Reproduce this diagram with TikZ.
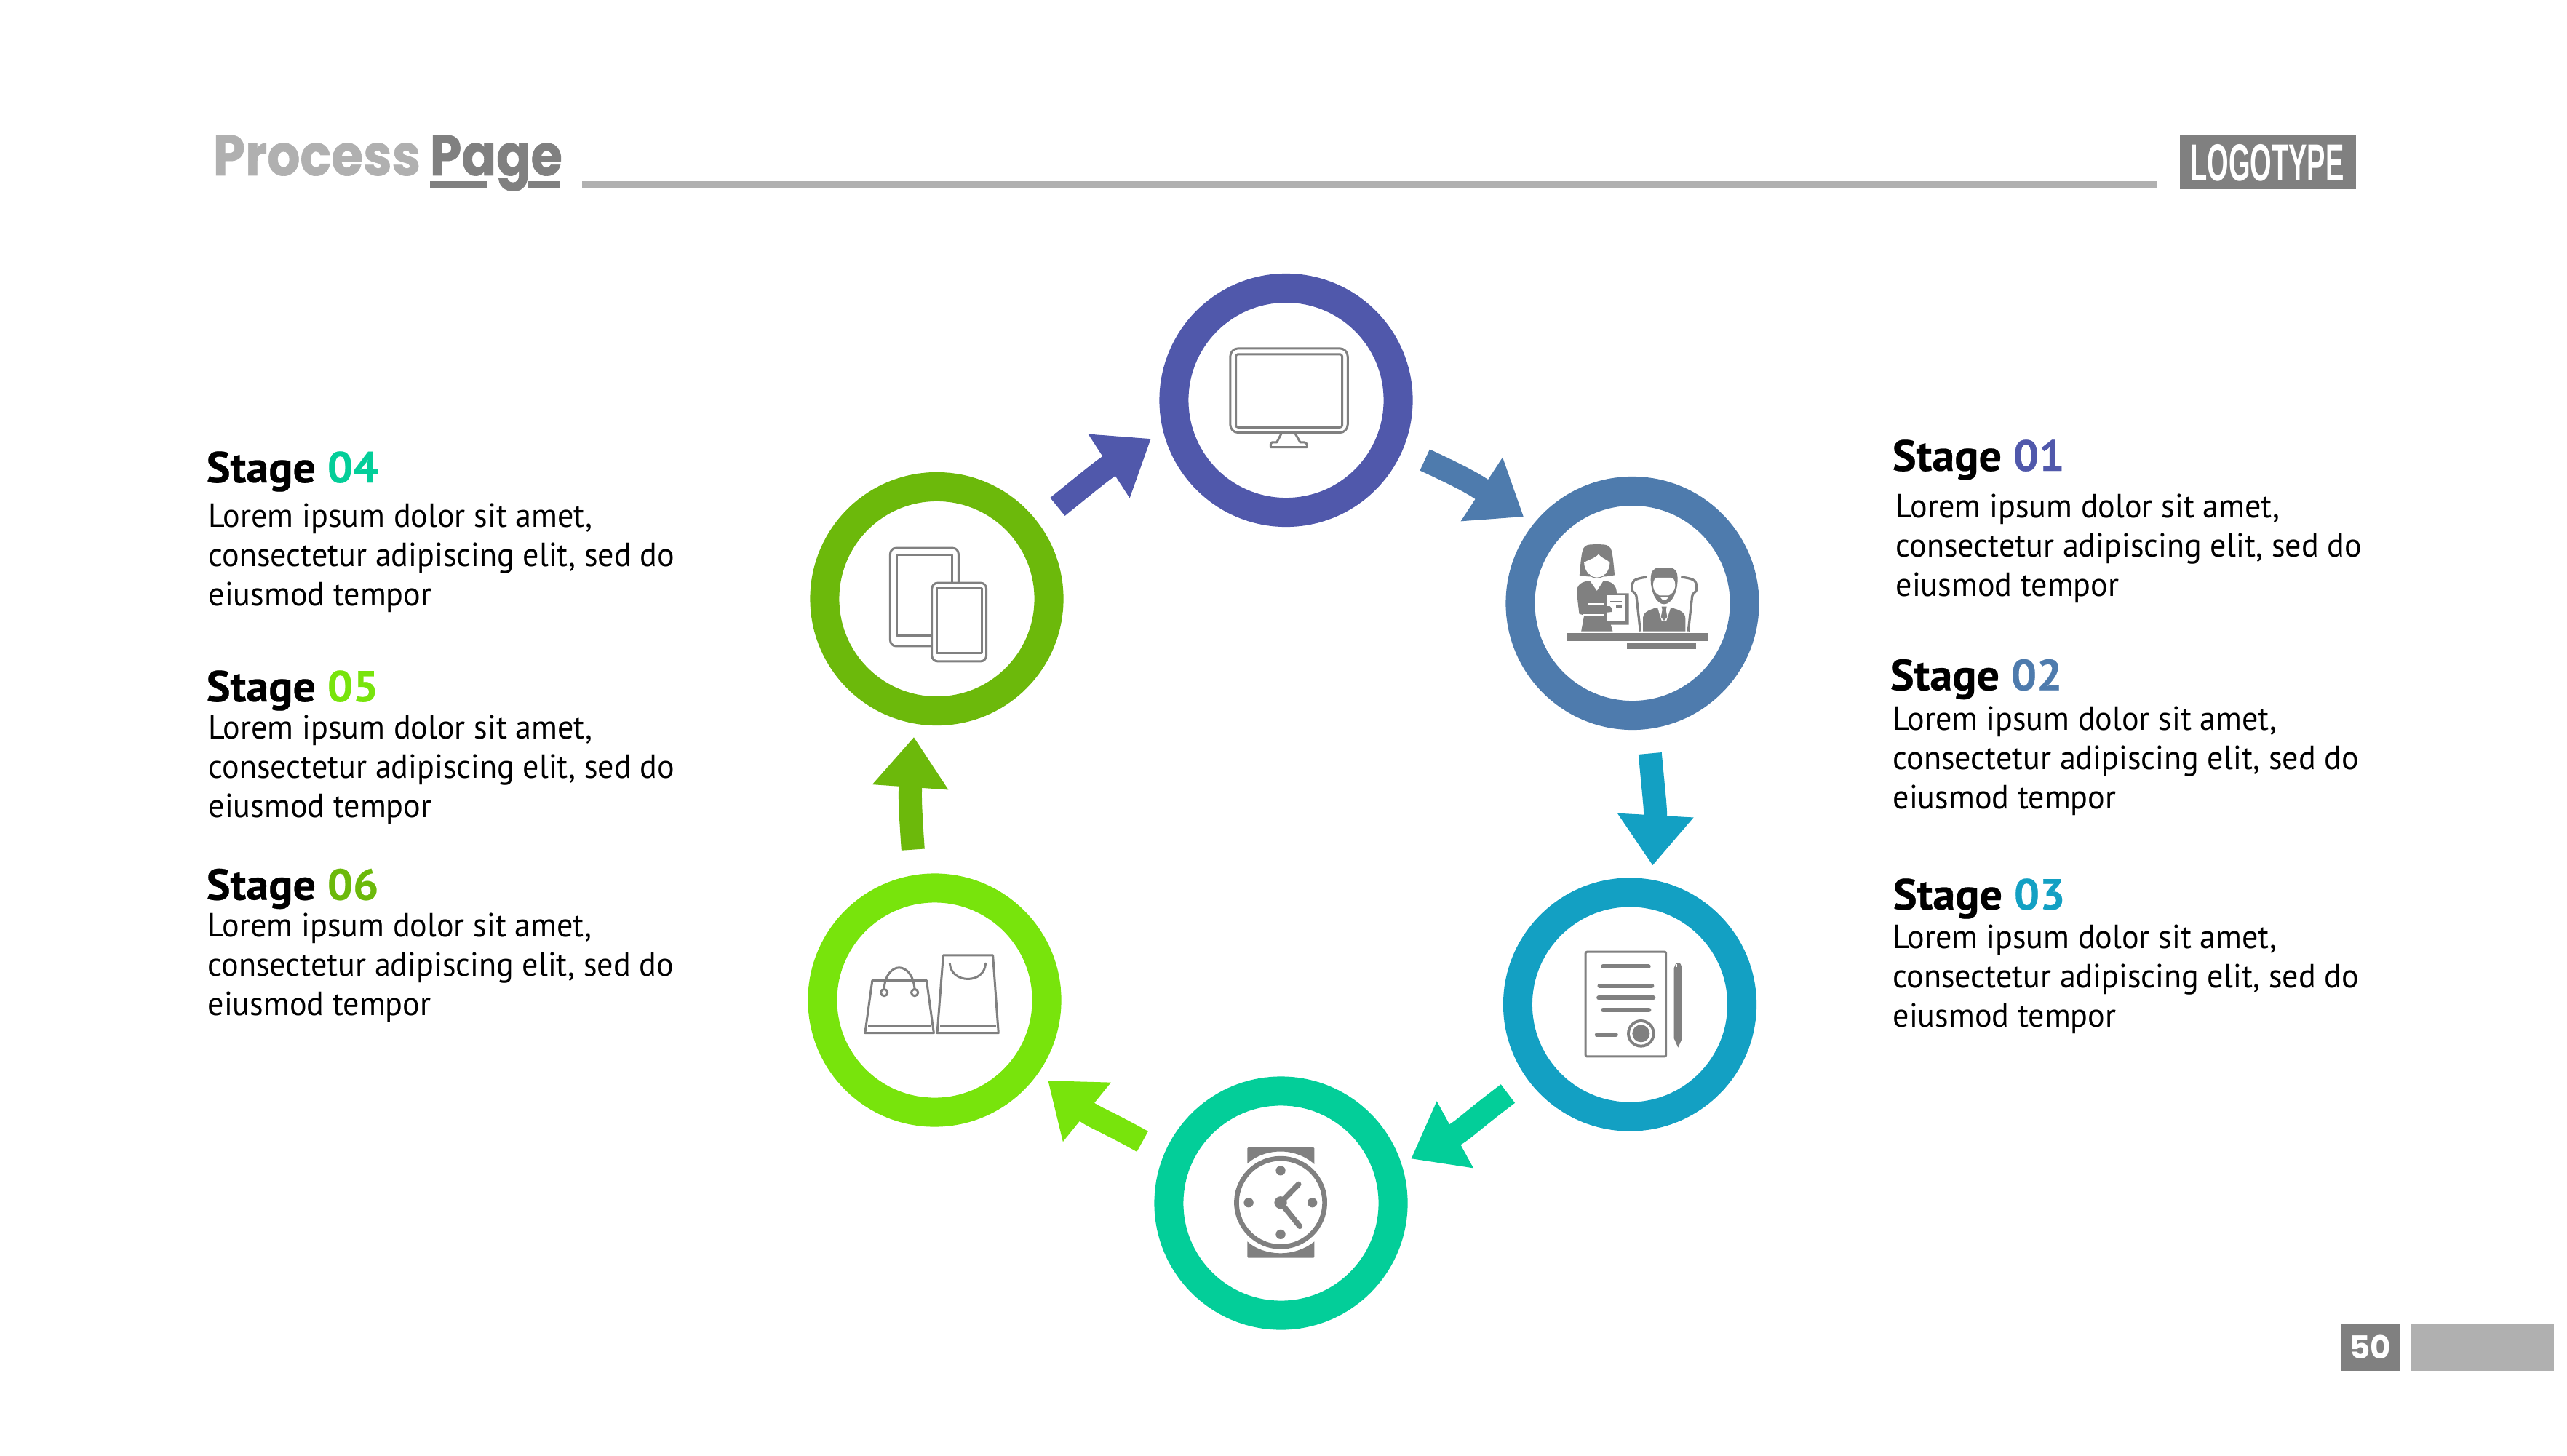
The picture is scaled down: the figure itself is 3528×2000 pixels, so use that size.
\documentclass[tikz,border=0pt]{standalone}
\usepackage{fontspec}
\usetikzlibrary{arrows.meta}
\setmainfont{PT Sans}[FakeStretch=0.957]
\newfontfamily\headf{PT Sans}[BoldFeatures={FakeStretch=1.04,FakeBold=0.4}]
\newfontfamily\titlef{Poppins}[BoldFeatures={FakeBold=0.8}]
\newfontfamily\numf{Poppins}
\newfontfamily\logof{Liberation Sans}
\definecolor{cA}{HTML}{5058AB}
\definecolor{cB}{HTML}{4E7BAD}
\definecolor{cC}{HTML}{13A0C3}
\definecolor{cD}{HTML}{03CE99}
\definecolor{cE}{HTML}{78E40C}
\definecolor{cF}{HTML}{6CB90B}
\definecolor{gd}{HTML}{808080}
\definecolor{gl}{HTML}{B0B0B0}
\tikzset{
  ring/.style={circle,draw=#1,line width=0.4cm,minimum size=3.08cm,inner sep=0pt,fill=white},
  flow/.style={#1,line width=0.32cm,looseness=1.2,-{Triangle[width=1cm,length=0.69cm]}},
  head/.style={anchor=base west,inner sep=0pt,font=\headf\fontsize{17}{20}\selectfont\bfseries},
  body/.style={anchor=north west,inner sep=0pt,align=left,font=\fontsize{13.1}{15.37}\selectfont},
  zoomgrid/.style={x=0.0033333cm,y=-0.0033333cm},
  ic/.style={draw=gd,line width=0.03cm,line join=round},
  bar/.style={fill=gd,line cap=round,line width=0.06cm,draw=gd},
  title/.style={anchor=base west,inner sep=0pt,font=\titlef\fontsize{22.4}{26}\selectfont\bfseries},
}
\begin{document}
\begin{tikzpicture}[x=0.01cm,y=-0.01cm]
\useasboundingbox (0,0) rectangle (3528,2000);
\fill[white] (0,0) rectangle (3528,2000);
% header
\node[title,text=gl] (tproc) at (292,241) {\scalebox{0.9}[1]{Process}};
\node[title,text=gd] (tpage) at (590,241) {\scalebox{0.89}[1]{Page}};
\fill[gd] (590.6,249.3) rectangle (669,259.3);
\fill[gd] (725,249.3) rectangle (769,259.3);
\fill[gl] (800,249.3) rectangle (2964,259.3);
\node[fill=gd,anchor=north west,minimum width=2.417cm,minimum height=0.736cm,inner sep=0pt] (logo) at (2995,185.7) {};
\node[anchor=base,inner sep=0pt,text=white] (logot) at (3115.8,248.3) {\logof\bfseries\fontsize{20.4}{24}\selectfont\scalebox{0.53}[1]{LOGOTYPE}};
% footer
\node[fill=gd,anchor=north west,minimum width=0.8cm,minimum height=0.65cm,inner sep=0pt,text=white,font=\numf\fontsize{12.4}{14}\selectfont\bfseries] (pnum) at (3216.7,1818) {50};
\node[fill=gl,anchor=north west,minimum width=1.96cm,minimum height=0.65cm,inner sep=0pt] (pbar) at (3313.3,1818) {};
% rings
\node[ring=cA] (r1) at (1767.5,550) {};
\node[ring=cB] (r2) at (2243.5,829) {};
\node[ring=cC] (r3) at (2240,1380.5) {};
\node[ring=cD] (r4) at (1760.5,1653.5) {};
\node[ring=cE] (r5) at (1284.5,1374.5) {};
\node[ring=cF] (r6) at (1287.5,823) {};
% arrows
\draw[flow=cB,shorten <=0.335cm,shorten >=0.168cm] (r1.-23) to[out=-24.8,in=146.8] (r2.141.3);
\draw[flow=cC,shorten <=0.338cm,shorten >=0.196cm] (r2.-83.6) to[out=-84.8,in=86.8] (r3.80.9);
\draw[flow=cD,shorten <=0.335cm,shorten >=0.15cm] (r3.216.8) to[out=-143,in=28.7] (r4.18.3);
\draw[flow=cE,shorten <=0.344cm,shorten >=0.168cm] (r4.157.4) to[out=151,in=-39] (r5.-35.4);
\draw[flow=cF,shorten <=0.35cm,shorten >=0.185cm] (r5.99.6) to[out=94,in=-94] (r6.-100);
\draw[flow=cA,shorten <=0.346cm,shorten >=0.198cm] (r6.37.2) to[out=39,in=-147] (r1.194);
% monitor
\begin{scope}[shift={(1580,360)},zoomgrid]
\draw[ic,rounded corners=0.11cm] (333,357) rectangle (818,705);
\draw[ic,rounded corners=0.03cm] (356,381) rectangle (795,683);
\draw[ic] (545,707) -- (525,745) -- (505,745) -- (500,752) -- (500,765) -- (650,765) -- (650,752) -- (640,745) -- (622,745) -- (600,707);
\end{scope}
% office
\begin{scope}[shift={(2060,640)},zoomgrid]
\fill[gd] (282,692) rectangle (862,723);
\fill[gd] (528,731) rectangle (814,757);
% woman
\fill[gd] (333,453) .. controls (338,400) and (340,360) .. (350,340) .. controls (358,326) and (370,325) .. (405,325) .. controls (440,325) and (452,326) .. (462,342) .. controls (470,360) and (473,400) .. (478,452) -- (440,458) -- (370,458) -- cycle;
\fill[white] (352,400) .. controls (375,385) and (395,385) .. (412,365) .. controls (425,385) and (445,385) .. (458,400) .. controls (458,430) and (435,466) .. (405,466) .. controls (378,466) and (352,430) .. (352,400) -- cycle;
\draw[gd,line width=0.01cm] (372,448) .. controls (385,468) and (425,468) .. (440,448);
\fill[gd] (323,512) .. controls (325,490) and (345,478) .. (375,475) -- (405,517) -- (432,475) .. controls (465,478) and (485,490) .. (487,527) -- (537,527) -- (537,657) -- (462,657) -- (470,684) -- (340,684) -- (352,618) -- (332,612) .. controls (328,580) and (323,545) .. (323,512) -- cycle;
\fill[white] (447,535) -- (522,535) -- (522,640) -- (447,640) -- cycle;
\fill[gd] (430,580) -- (458,580) -- (467,590) -- (467,604) -- (447,606) -- (430,606) -- cycle;
\fill[gd] (460,558) rectangle (507,566);
\fill[gd] (483,578) rectangle (507,586);
\fill[white] (368,567) rectangle (432,573);
\fill[white] (349,612) rectangle (432,618);
% man and chair
\draw[gd,line width=0.033cm] (612,460) .. controls (585,463) and (565,468) .. (558,475) .. controls (548,485) and (548,510) .. (552,518) .. controls (558,525) and (566,528) .. (568,540) -- (584,684);
\draw[gd,line width=0.033cm] (752,460) .. controls (780,463) and (800,468) .. (808,475) .. controls (818,485) and (818,510) .. (814,518) .. controls (808,525) and (800,528) .. (798,540) -- (782,684);
\fill[gd] (627,470) .. controls (627,435) and (640,422) .. (660,422) -- (705,422) .. controls (728,422) and (738,435) .. (738,470) .. controls (738,520) and (715,572) .. (682,572) .. controls (650,572) and (627,520) .. (627,470) -- cycle;
\fill[white] (637,495) .. controls (637,470) and (645,462) .. (660,462) -- (705,462) .. controls (720,462) and (728,470) .. (728,495) .. controls (726,520) and (712,532) .. (700,536) -- (664,536) .. controls (652,532) and (639,520) .. (637,495) -- cycle;
\fill[white] (666,541) .. controls (675,560) and (692,560) .. (700,541) -- cycle;
\fill[gd] (595,684) -- (595,630) .. controls (595,605) and (620,595) .. (655,585) -- (680,640) -- (708,585) .. controls (745,595) and (770,605) .. (770,630) -- (770,684) -- cycle;
\fill[white] (655,585) -- (672,580) -- (692,580) -- (710,585) -- (692,640) -- (672,640) -- cycle;
\fill[gd] (672,582) -- (693,582) -- (690,596) -- (695,625) -- (682,640) -- (669,625) -- (675,596) -- cycle;
\end{scope}
% document
\begin{scope}[shift={(2060,1210)},zoomgrid]
\draw[ic,rounded corners=0.02cm] (358,295) rectangle (690,727);
\draw[bar] (430,356) -- (618,356);
\draw[bar] (416,435) -- (632,435);
\draw[bar] (412,485) -- (638,485);
\draw[bar] (430,535) -- (620,535);
\draw[bar] (405,638) -- (483,638);
\fill[gd] (587,632) circle (58);
\fill[white] (587,632) circle (46);
\fill[gd] (587,632) circle (36);
\fill[gd] (723,362) -- (730,345) .. controls (733,338) and (747,338) .. (750,345) -- (757,362) -- (757,652) -- (740,690) -- (723,652) -- cycle;
\draw[white,line width=0.01cm] (733,362) -- (733,650);
\fill[white] (733,345) rectangle (737,358);
\end{scope}
% clock
\begin{scope}[shift={(1580,1480)},zoomgrid]
\draw[gd,line width=0.067cm] (541,519) circle (182);
\foreach \px/\py in {541/387,541/650,409/519,672/519}{\fill[gd] (\px,\py) circle (20);}
\fill[gd] (541,519) circle (26);
\draw[gd,line width=0.075cm,line cap=round] (615,443) -- (541,519) -- (620,617);
\fill[gd] (404,358) -- (404,298) [rounded corners=0.01cm] -- (404,292) -- (680,292) -- (680,298) [sharp corners] -- (680,360) .. controls (640,325) and (590,308) .. (541,308) .. controls (490,308) and (440,325) .. (404,358) -- cycle;
\fill[gd] (404,680) -- (404,740) [rounded corners=0.01cm] -- (404,747) -- (680,747) -- (680,740) [sharp corners] -- (680,680) .. controls (640,712) and (590,728) .. (541,728) .. controls (490,728) and (440,712) .. (404,680) -- cycle;
\end{scope}
% bags
\begin{scope}[shift={(1100,1200)},zoomgrid]
\draw[ic] (297,443) -- (521,443) -- (551,660) -- (267,660) -- cycle;
\draw[ic] (280,630) -- (540,630);
\draw[ic] (346,480) .. controls (348,420) and (380,390) .. (408,390) .. controls (436,390) and (468,420) .. (472,480);
\draw[ic] (346,493) circle (14);
\draw[ic] (472,493) circle (14);
\draw[ic] (590,339) -- (795,339) -- (818,660) -- (565,660) -- cycle;
\draw[ic] (577,630) -- (808,630);
\draw[ic,line cap=round] (617,373) .. controls (620,415) and (655,437) .. (692,437) .. controls (730,437) and (762,415) .. (765,373);
\end{scope}
% tablets
\begin{scope}[shift={(1100,640)},zoomgrid]
\draw[ic,rounded corners=0.08cm] (371,340) rectangle (653,745);
\draw[ic] (397,367) rectangle (625,702);
\draw[ic,fill=white,rounded corners=0.08cm] (543,484) rectangle (768,808);
\draw[ic] (563,507) rectangle (749,775);
\end{scope}
% right texts
\node[head] (h1) at (2600,647) {Stage \textcolor{cA}{01}};
\node[body] (b1) at (2605,678) {Lorem ipsum dolor sit amet,\\consectetur adipiscing elit, sed do\\eiusmod tempor};
\node[head] (h2) at (2597,948.5) {Stage \textcolor{cB}{02}};
\node[body] (b2) at (2601,970.5) {Lorem ipsum dolor sit amet,\\consectetur adipiscing elit, sed do\\eiusmod tempor};
\node[head] (h3) at (2601,1250) {Stage \textcolor{cC}{03}};
\node[body] (b3) at (2601,1270) {Lorem ipsum dolor sit amet,\\consectetur adipiscing elit, sed do\\eiusmod tempor};
% left texts
\node[head] (h4) at (283,663) {Stage \textcolor{cD}{04}};
\node[body] (b4) at (286,691.5) {Lorem ipsum dolor sit amet,\\consectetur adipiscing elit, sed do\\eiusmod tempor};
\node[head] (h5) at (283,964) {Stage \textcolor{cE}{05}};
\node[body] (b5) at (286,982) {Lorem ipsum dolor sit amet,\\consectetur adipiscing elit, sed do\\eiusmod tempor};
\node[head] (h6) at (283,1236.5) {Stage \textcolor{cF}{06}};
\node[body] (b6) at (285,1254) {Lorem ipsum dolor sit amet,\\consectetur adipiscing elit, sed do\\eiusmod tempor};
\end{tikzpicture}
\end{document}
